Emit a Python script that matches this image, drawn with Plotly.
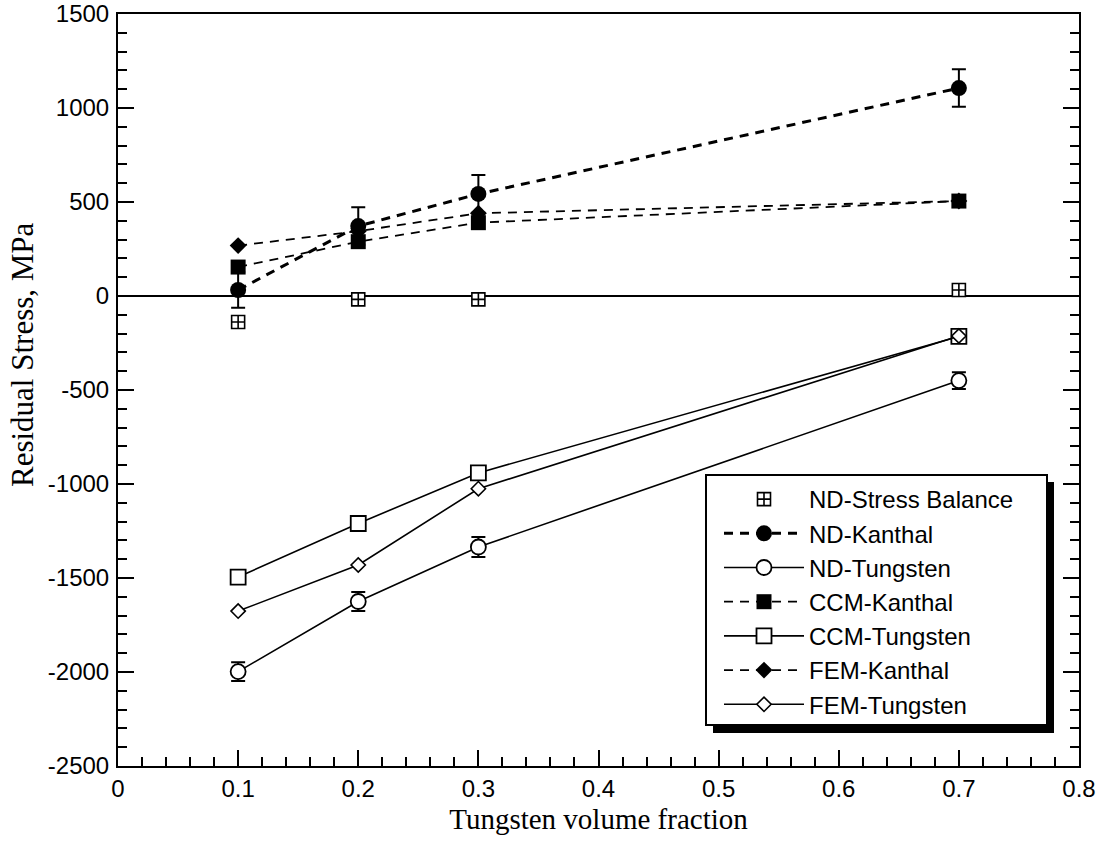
import plotly.graph_objects as go

# ---- data ----
vf = [0.1, 0.2, 0.3, 0.7]
nd_balance = [-138, -18, -18, 32]
nd_kanthal = [32, 372, 543, 1106]
nd_kanthal_err = [95, 100, 100, 100]
nd_tungsten = [-1998, -1625, -1335, -450]
nd_tungsten_err = [50, 50, 53, 45]
ccm_kanthal = [154, 289, 390, 505]
ccm_tungsten = [-1495, -1210, -941, -215]
fem_kanthal = [268, 345, 440, 505]
fem_tungsten = [-1676, -1431, -1025, -213]

x_ticks = [0, 0.1, 0.2, 0.3, 0.4, 0.5, 0.6, 0.7, 0.8]
y_ticks = [-2500, -2000, -1500, -1000, -500, 0, 500, 1000, 1500]

# ---- layout constants (pixels) ----
W, H = 1101, 845
L, R, T, B = 118, 22, 14, 79
PW, PH = W - L - R, H - T - B


def px_x(p):
    return (p - L) / PW


def px_y(p):
    return (H - B - p) / PH


BLACK = "black"
SANS = "Liberation Sans, Arial, Helvetica"
SERIF = "Liberation Serif, Times New Roman, Times"

fig = go.Figure()

fig.add_trace(go.Scatter(
    x=vf, y=nd_balance, mode="markers", name="ND-Stress Balance",
    marker=dict(symbol="square-cross", size=13, color="white",
                line=dict(color=BLACK, width=1.6)),
))
fig.add_trace(go.Scatter(
    x=vf, y=nd_kanthal, mode="lines+markers", name="ND-Kanthal",
    line=dict(color=BLACK, width=3, dash="9px,7px"),
    marker=dict(symbol="circle", size=16, color=BLACK),
    error_y=dict(type="data", array=nd_kanthal_err, color=BLACK,
                 thickness=2, width=7),
))
fig.add_trace(go.Scatter(
    x=vf, y=nd_tungsten, mode="lines+markers", name="ND-Tungsten",
    line=dict(color=BLACK, width=1.6),
    marker=dict(symbol="circle", size=15, color="white",
                line=dict(color=BLACK, width=1.8)),
    error_y=dict(type="data", array=nd_tungsten_err, color=BLACK,
                 thickness=2, width=7),
))
fig.add_trace(go.Scatter(
    x=vf, y=ccm_kanthal, mode="lines+markers", name="CCM-Kanthal",
    line=dict(color=BLACK, width=1.8, dash="9px,7px"),
    marker=dict(symbol="square", size=15, color=BLACK),
))
fig.add_trace(go.Scatter(
    x=vf, y=ccm_tungsten, mode="lines+markers", name="CCM-Tungsten",
    line=dict(color=BLACK, width=1.6),
    marker=dict(symbol="square", size=15, color="white",
                line=dict(color=BLACK, width=1.8)),
))
fig.add_trace(go.Scatter(
    x=vf, y=fem_kanthal, mode="lines+markers", name="FEM-Kanthal",
    line=dict(color=BLACK, width=1.8, dash="9px,7px"),
    marker=dict(symbol="diamond", size=13, color=BLACK),
))
fig.add_trace(go.Scatter(
    x=vf, y=fem_tungsten, mode="lines+markers", name="FEM-Tungsten",
    line=dict(color=BLACK, width=1.6),
    marker=dict(symbol="diamond", size=11, color="white",
                line=dict(color=BLACK, width=1.6)),
))

# legend frame with drop shadow (drawn as shapes, legend text on top)
fig.add_shape(type="rect", xref="paper", yref="paper",
              x0=px_x(713), x1=px_x(1054), y0=px_y(733), y1=px_y(482),
              fillcolor=BLACK, line=dict(width=0), layer="above")
fig.add_shape(type="rect", xref="paper", yref="paper",
              x0=px_x(706), x1=px_x(1047), y0=px_y(725), y1=px_y(475),
              fillcolor="white", line=dict(color=BLACK, width=2), layer="above")

# y-axis title (placed as annotation to match its vertical position)
fig.add_annotation(
    text="Residual Stress, MPa", textangle=-90,
    xref="paper", yref="paper", x=px_x(22), y=px_y(355),
    xanchor="center", yanchor="middle", showarrow=False,
    font=dict(family=SERIF, size=31, color=BLACK),
)

axis_common = dict(
    showgrid=False, showline=True, linecolor=BLACK, linewidth=2,
    ticks="inside", ticklen=16, tickwidth=2, tickcolor=BLACK,
    tickfont=dict(family=SANS, size=24, color=BLACK),
    automargin=False,
)

fig.update_xaxes(
    **axis_common, range=[0, 0.8], tickvals=x_ticks,
    ticktext=[f"{v:g}" for v in x_ticks], mirror=True, zeroline=False,
    minor=dict(dtick=0.02, ticks="inside", ticklen=9, tickwidth=1.5,
               tickcolor=BLACK, showgrid=False),
    title=dict(text="Tungsten volume fraction", standoff=8,
               font=dict(family=SERIF, size=29, color=BLACK)),
)
fig.update_yaxes(
    **axis_common, range=[-2500, 1500], tickvals=y_ticks,
    ticktext=[str(v) for v in y_ticks], mirror="ticks",
    ticklabelstandoff=2,
    zeroline=True, zerolinecolor=BLACK, zerolinewidth=2,
    minor=dict(dtick=100, ticks="inside", ticklen=9, tickwidth=1.5,
               tickcolor=BLACK, showgrid=False),
)

fig.update_layout(
    width=W, height=H,
    margin=dict(l=L, r=R, t=T, b=B, autoexpand=False),
    paper_bgcolor="white", plot_bgcolor="white",
    showlegend=True,
    legend=dict(
        x=px_x(719), y=px_y(477), xanchor="left", yanchor="top",
        bgcolor="rgba(0,0,0,0)", borderwidth=0,
        font=dict(family=SANS, size=24, color=BLACK),
        itemwidth=80, tracegroupgap=0,
    ),
)

fig.write_html("out.html")
